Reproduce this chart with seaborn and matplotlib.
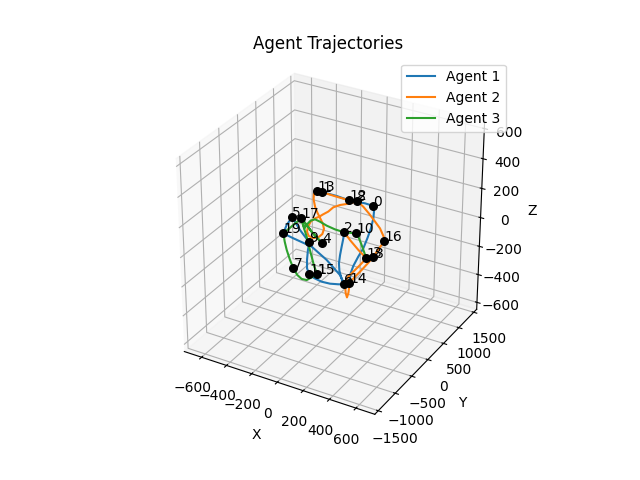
import matplotlib
matplotlib.use("Agg")
import matplotlib.pyplot as plt
import seaborn as sns

agent_names = ["Agent 1", "Agent 2", "Agent 3"]

agent1_x = [9,25,41,55,73,103,142,181,220,182,77,-44,-194,-278,-274,-269,-262,-226,-189,-142,-103,-95,-78,-59,-22,11,66,125,180,220,232,216,205,214,229,236,240,227,206,180,129,47,-38,-108,-136,-148]
agent1_y = [300,200,100,0,-100,-200,-300,-400,-500,-480,-470,-450,-420,-400,-320,-260,-200,-230,-250,-280,-300,-370,-460,-530,-600,-590,-575,-555,-520,-500,-400,-300,-180,-70,20,110,200,320,420,500,450,300,250,220,200,100]
agent1_z = [-24,-52,-73,-107,-138,-160,-170,-168,-159,-110,-37,18,30,38,80,96,111,85,53,26,1,-34,-80,-117,-134,-152,-166,-168,-165,-159,-170,-127,-105,-62,-20,31,82,122,142,159,174,203,222,229,233,256]

agent2_x = [9,40,88,130,133,133,146,173,220,223,226,228,233,233,232,198,184,172,160,190,208,219,215,191,162,127,90,57,47,-38,-136,-148,-166,-161,-139,-113,-92,-118,-141,-151,-151,-133,-99,-68,-48,-43,-61,-92,-80,-58,-51,-26,0,57]
agent2_y = [300,350,420,500,300,100,-100,-300,-500,-480,-480,-450,-430,-410,-400,-100,150,400,600,630,650,700,690,670,630,590,550,500,300,250,200,100,70,40,0,-30,-50,-80,-120,-160,-190,-210,-200,-170,-130,-100,-70,-50,0,80,200,300,400,500]
agent2_z = [-24,-79,-150,-214,-218,-222,-211,-196,-159,-190,-223,-257,-232,-202,-170,-198,-208,-213,-216,-163,-134,-114,-80,-25,22,74,122,160,203,217,233,256,244,210,174,146,128,116,96,67,39,19,11,18,37,67,94,128,135,145,152,154,148,160]

agent3_x = [130,119,103,89,76,9,-38,-76,-112,-140,-166,-184,-202,-220,-170,-112,-57,-2,-57,-112,-170,-220,-185,-151,-114,-72,-30,13,-23,-51,-85,-116,-146,-183,-222,-254,-278,-261,-244,-232,-220]
agent3_y = [500,470,440,410,400,300,200,100,40,0,-30,-60,-80,-100,-130,-200,-260,-300,-260,-200,-130,-100,-150,-200,-270,-350,-430,-500,-530,-570,-590,-600,-600,-560,-510,-450,-400,-320,-240,-170,-100]
agent3_z = [-214,-164,-104,-55,-34,-24,5,41,71,88,79,57,27,95,68,51,39,20,39,51,68,95,45,7,-37,-78,-119,-146,-169,-187,-184,-163,-125,-86,-38,-2,38,54,72,83,95]

node_x = [180,-136,9,160,-2,-262,220,-146,57,-103,76,-22,47,-148,232,13,219,-220,130,-278]
node_y = [500,200,300,600,-300,-200,-500,-600,500,-300,400,-600,300,100,-400,-500,700,-100,500,-400]
node_z = [159,233,-24,-216,20,111,-159,-125,160,1,-34,-134,203,256,-170,-146,-114,95,-214,38]

colors = sns.color_palette("tab10", 3)

fig = plt.figure(figsize=(6.4, 4.8), dpi=100)
ax = fig.add_subplot(111, projection="3d")

agents = [(agent1_x, agent1_y, agent1_z), (agent2_x, agent2_y, agent2_z), (agent3_x, agent3_y, agent3_z)]
for (xs, ys, zs), name, color in zip(agents, agent_names, colors):
    ax.plot(xs, ys, zs, color=color, label=name)

ax.scatter(node_x, node_y, node_z, color="black", s=30, depthshade=False)
for i, (x, y, z) in enumerate(zip(node_x, node_y, node_z)):
    ax.text(x, y, z, str(i))

ax.set_xlim(-740, 740)
ax.set_ylim(-1600, 1600)
ax.set_zlim(-650, 650)
ax.set_box_aspect((1, 1, 1))
ax.set_xlabel("X")
ax.set_ylabel("Y")
ax.set_zlabel("Z")
ax.set_title("Agent Trajectories")
ax.legend()

fig.savefig("out.png", dpi=100)
